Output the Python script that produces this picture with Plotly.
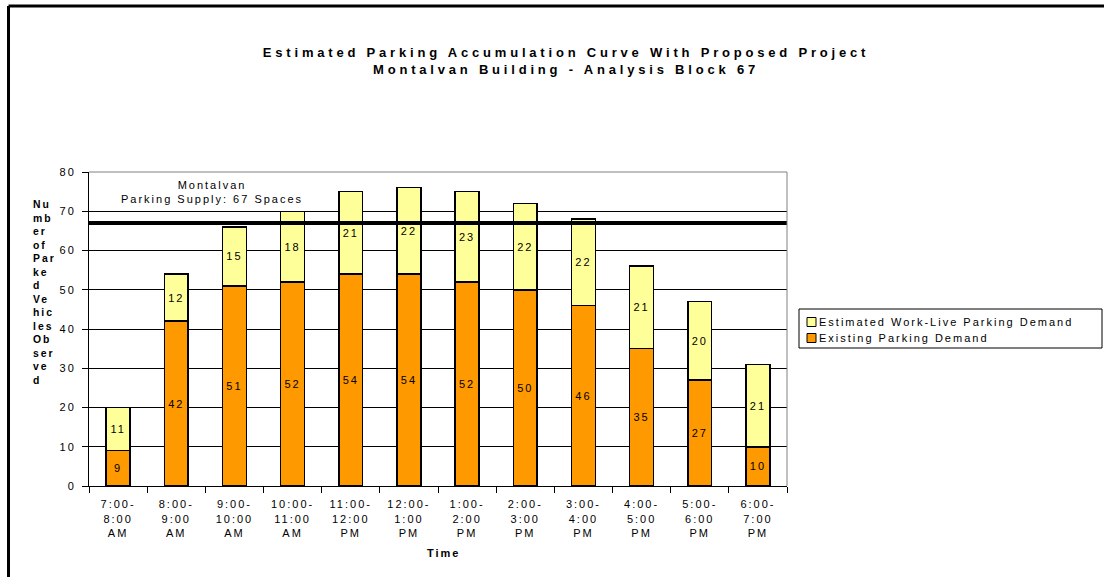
import plotly.graph_objects as go

# Hourly periods on the x axis
periods = [
    "7:00-<br>8:00<br>AM", "8:00-<br>9:00<br>AM", "9:00-<br>10:00<br>AM",
    "10:00-<br>11:00<br>AM", "11:00-<br>12:00<br>PM", "12:00-<br>1:00<br>PM",
    "1:00-<br>2:00<br>PM", "2:00-<br>3:00<br>PM", "3:00-<br>4:00<br>PM",
    "4:00-<br>5:00<br>PM", "5:00-<br>6:00<br>PM", "6:00-<br>7:00<br>PM",
]
existing_demand = [9, 42, 51, 52, 54, 54, 52, 50, 46, 35, 27, 10]
work_live_demand = [11, 12, 15, 18, 21, 22, 23, 22, 22, 21, 20, 21]
parking_supply = 67

existing_name = "Existing Parking Demand"
work_live_name = "Estimated Work-Live Parking Demand"

ORANGE = "#FF9900"
YELLOW = "#FFFF99"
FONT = "Arial, Liberation Sans, sans-serif"

W, H = 1104, 577
PL, PR, PT, PB = 89, 787, 172, 486   # plot area in pixels


def px(x):
    return (x - PL) / (PR - PL)


def py(y):
    return (PB - y) / (PB - PT)


fig = go.Figure()
fig.add_trace(go.Bar(
    x=periods, y=existing_demand, name=existing_name,
    marker=dict(color=ORANGE, line=dict(color="black", width=1.5)),
    texttemplate="%{y}", textposition="inside", insidetextanchor="middle",
    textangle=0, textfont=dict(family=FONT, size=11, color="black"),
    showlegend=False,
))
fig.add_trace(go.Bar(
    x=periods, y=work_live_demand, name=work_live_name,
    marker=dict(color=YELLOW, line=dict(color="black", width=1.5)),
    texttemplate="%{y}", textposition="inside", insidetextanchor="middle",
    textangle=0, textfont=dict(family=FONT, size=11, color="black"),
    showlegend=False,
))

shapes = [
    # parking supply line
    dict(type="line", xref="paper", yref="y", x0=px(88), x1=1, y0=parking_supply,
         y1=parking_supply, line=dict(color="black", width=4)),
    # plot-area border (top and right)
    dict(type="line", xref="paper", yref="paper", x0=0, x1=1, y0=1, y1=1,
         line=dict(color="#808080", width=1)),
    dict(type="line", xref="paper", yref="paper", x0=1, x1=1, y0=0, y1=1,
         line=dict(color="#808080", width=1)),
    # outer chart frame
    dict(type="line", xref="paper", yref="paper", x0=px(8.5), x1=px(1110),
         y0=py(6), y1=py(6), line=dict(color="black", width=3)),
    dict(type="line", xref="paper", yref="paper", x0=px(8.5), x1=px(8.5),
         y0=py(6), y1=py(590), line=dict(color="black", width=3)),
    # legend box
    dict(type="rect", xref="paper", yref="paper", x0=px(799), x1=px(1102),
         y0=py(309), y1=py(348), line=dict(color="black", width=1),
         fillcolor="white"),
    dict(type="rect", xref="paper", yref="paper", x0=px(807), x1=px(816),
         y0=py(317.5), y1=py(326.5), line=dict(color="black", width=1),
         fillcolor=YELLOW),
    dict(type="rect", xref="paper", yref="paper", x0=px(807), x1=px(816),
         y0=py(333.5), y1=py(342.5), line=dict(color="black", width=1),
         fillcolor=ORANGE),
]

annotations = [
    dict(text="Montalvan<br>Parking Supply: 67 Spaces", xref="paper", yref="paper",
         x=px(212), y=py(191.5), xanchor="center", yanchor="middle",
         showarrow=False, align="center",
         font=dict(family=FONT, size=11, color="black")),
    dict(text="<br>".join(["Nu", "mb", "er", "of", "Par", "ke", "d", "Ve", "hic",
                           "les", "Ob", "ser", "ve", "d"]),
         xref="paper", yref="paper", x=px(31), y=py(197), xanchor="left",
         yanchor="top", align="left", showarrow=False,
         font=dict(family=FONT, size=10.4, color="black", weight="bold")),
    dict(text="Time", xref="paper", yref="paper", x=px(443), y=py(553),
         xanchor="center", yanchor="middle", showarrow=False,
         font=dict(family=FONT, size=11, color="black", weight="bold")),
    dict(text=work_live_name, xref="paper", yref="paper", x=px(817), y=py(322),
         xanchor="left", yanchor="middle", align="left", showarrow=False,
         font=dict(family=FONT, size=11, color="black")),
    dict(text=existing_name, xref="paper", yref="paper", x=px(817), y=py(338),
         xanchor="left", yanchor="middle", align="left", showarrow=False,
         font=dict(family=FONT, size=11, color="black")),
]

fig.update_layout(
    width=W, height=H,
    margin=dict(l=PL, r=W - PR, t=PT, b=H - PB, pad=0),
    paper_bgcolor="white", plot_bgcolor="white",
    barmode="stack", bargap=0.59,
    font=dict(family=FONT, size=11, color="black"),
    title=dict(
        text="Estimated Parking Accumulation Curve With Proposed Project<br>"
             "Montalvan Building - Analysis Block 67",
        xref="container", yref="container", x=566 / W, y=1 - 57 / H,
        xanchor="center", yanchor="top",
        font=dict(family=FONT, size=13, color="black", weight="bold"),
    ),
    shapes=shapes,
    annotations=annotations,
    showlegend=False,
)
fig.update_xaxes(
    type="category", showline=True, linecolor="black", linewidth=1,
    ticks="outside", tickson="boundaries", ticklen=6, tickcolor="black",
    ticklabelstandoff=8,
    showgrid=False, tickfont=dict(family=FONT, size=11, color="black"),
)
fig.update_yaxes(
    range=[0, 80], dtick=10, showline=True, linecolor="black", linewidth=1,
    ticks="outside", ticklen=6, tickcolor="black", ticklabelstandoff=4,
    showgrid=True, gridcolor="black", gridwidth=1, zeroline=False,
    tickfont=dict(family=FONT, size=11, color="black"),
)

spacing_js = """
var gd = document.getElementById('{plot_id}');
gd.querySelectorAll('text').forEach(function (t) {
    t.style.letterSpacing = '2px';
});
gd.querySelectorAll('.gtitle').forEach(function (t) {
    t.style.letterSpacing = '3.8px';
});
"""

fig.write_html("out.html", post_script=spacing_js)
